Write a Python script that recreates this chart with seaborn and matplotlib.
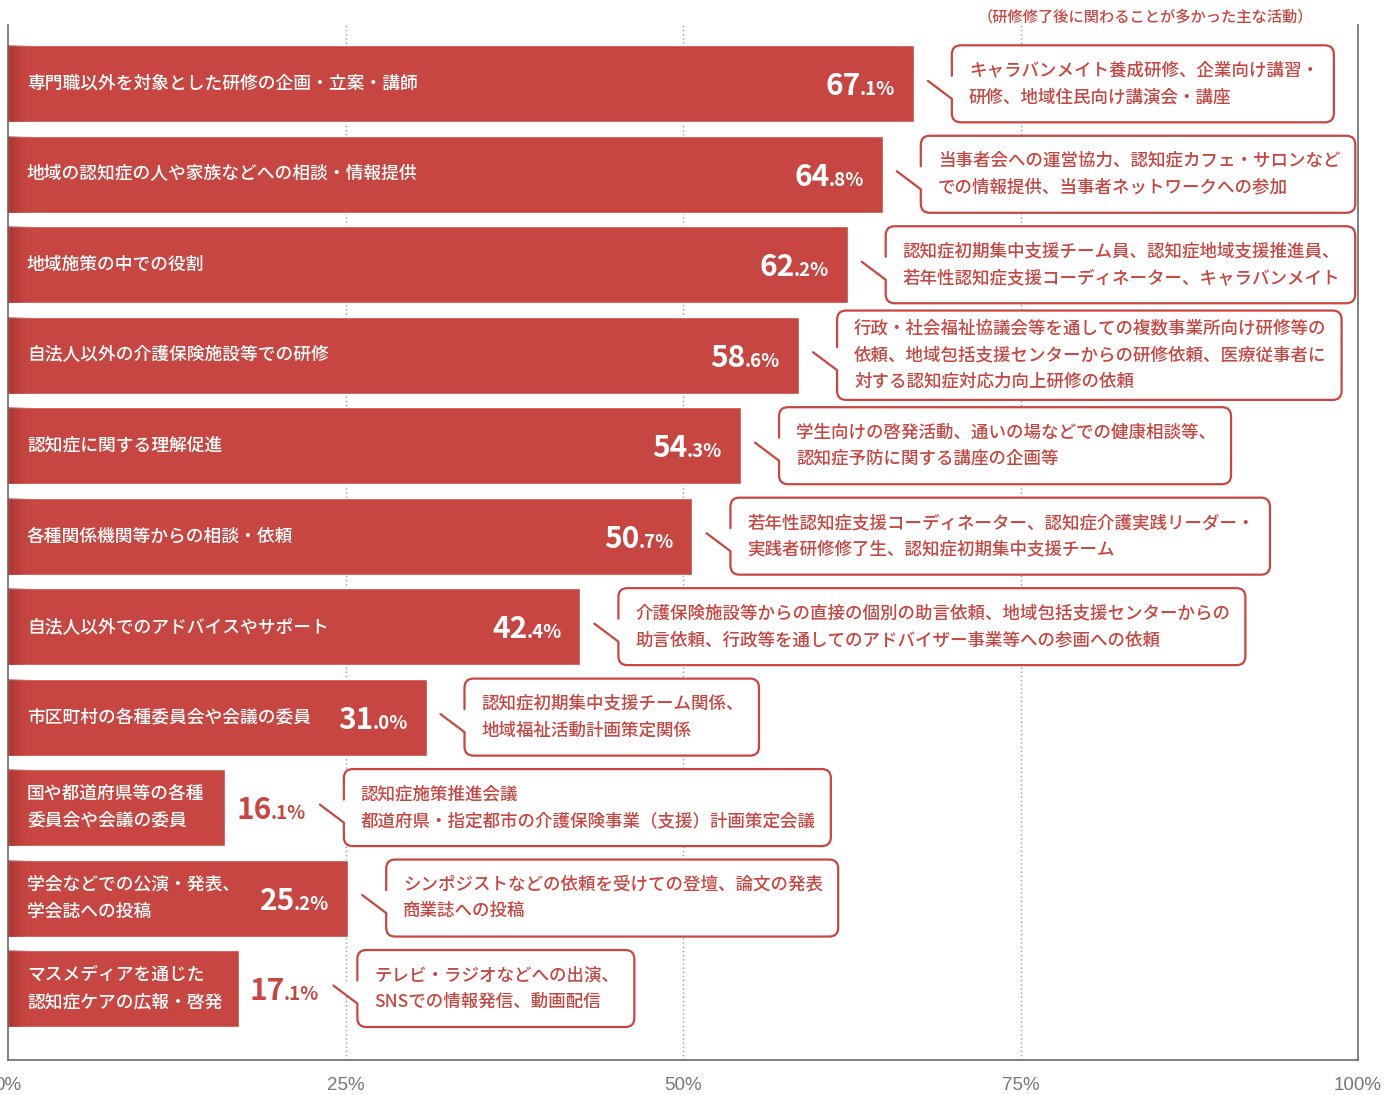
import matplotlib
matplotlib.use("Agg")
import matplotlib.pyplot as plt
import seaborn as sns
import pandas as pd
import numpy as np
from matplotlib.path import Path
from matplotlib.patches import PathPatch
from matplotlib.transforms import IdentityTransform
from matplotlib.colors import LinearSegmentedColormap

# ---------------- data ----------------
categories = [
    "専門職以外を対象とした研修の企画・立案・講師",
    "地域の認知症の人や家族などへの相談・情報提供",
    "地域施策の中での役割",
    "自法人以外の介護保険施設等での研修",
    "認知症に関する理解促進",
    "各種関係機関等からの相談・依頼",
    "自法人以外でのアドバイスやサポート",
    "市区町村の各種委員会や会議の委員",
    "国や都道府県等の各種\n委員会や会議の委員",
    "学会などでの公演・発表、\n学会誌への投稿",
    "マスメディアを通じた\n認知症ケアの広報・啓発",
]
values = [67.1, 64.8, 62.2, 58.6, 54.3, 50.7, 42.4, 31.0, 16.1, 25.2, 17.1]
activities = [
    "キャラバンメイト養成研修、企業向け講習・\n研修、地域住民向け講演会・講座",
    "当事者会への運営協力、認知症カフェ・サロンなど\nでの情報提供、当事者ネットワークへの参加",
    "認知症初期集中支援チーム員、認知症地域支援推進員、\n若年性認知症支援コーディネーター、キャラバンメイト",
    "行政・社会福祉協議会等を通しての複数事業所向け研修等の\n依頼、地域包括支援センターからの研修依頼、医療従事者に\n対する認知症対応力向上研修の依頼",
    "学生向けの啓発活動、通いの場などでの健康相談等、\n認知症予防に関する講座の企画等",
    "若年性認知症支援コーディネーター、認知症介護実践リーダー・\n実践者研修修了生、認知症初期集中支援チーム",
    "介護保険施設等からの直接の個別の助言依頼、地域包括支援センターからの\n助言依頼、行政等を通してのアドバイザー事業等への参画への依頼",
    "認知症初期集中支援チーム関係、\n地域福祉活動計画策定関係",
    "認知症施策推進会議\n都道府県・指定都市の介護保険事業（支援）計画策定会議",
    "シンポジストなどの依頼を受けての登壇、論文の発表\n商業誌への投稿",
    "テレビ・ラジオなどへの出演、\nSNSでの情報発信、動画配信",
]
label_inside = [True, True, True, True, True, True, True, True, False, True, False]
x_ticks = [0, 25, 50, 75, 100]
x_tick_labels = ["0%", "25%", "50%", "75%", "100%"]
header = "（研修修了後に関わることが多かった主な活動）"

# ---------------- style ----------------
sns.set_theme(style="white")
plt.rcParams["font.family"] = ["Noto Sans CJK JP", "DejaVu Sans"]

RED = "#c84641"
GRAY = "#6b6b6b"
W, H = 1399, 1095
fig = plt.figure(figsize=(W / 100, H / 100), dpi=100)
fig.patch.set_facecolor("white")
ax = fig.add_axes([8 / W, 35 / H, 1350 / W, 1035 / H])

df = pd.DataFrame({"cat": categories, "val": values})
sns.barplot(data=df, x="val", y="cat", orient="h", color=RED, saturation=1,
            width=0.85, ax=ax, zorder=2)

ax.set_xlim(0, 100)
ax.set_ylim(10.79, -0.65)
ax.set_xlabel("")
ax.set_ylabel("")
ax.set_yticks([])
ax.set_xticks(x_ticks)
ax.set_xticklabels(x_tick_labels, fontfamily=["Liberation Sans", "DejaVu Sans"])
ax.tick_params(axis="x", length=0, pad=12, labelsize=13.5, labelcolor="#777777")
for s in ["left", "bottom", "right"]:
    ax.spines[s].set_visible(True)
    ax.spines[s].set_color(GRAY)
    ax.spines[s].set_linewidth(1.2)
ax.spines["top"].set_visible(False)
for xv in x_ticks[1:-1]:
    ax.axvline(xv, color="#9a9a9a", lw=1.0, ls=(0, (1, 2)), zorder=0)

# left-edge shading of bars
shade = LinearSegmentedColormap.from_list("sh", [(0.55, 0.15, 0.14, 0.55), (0.78, 0.27, 0.25, 0.0)])
grad = np.linspace(0, 1, 64).reshape(1, -1)
for p in ax.patches:
    y0 = p.get_y()
    h = p.get_height()
    ax.imshow(grad, cmap=shade, extent=(0, 1.8, y0 + h, y0), aspect="auto",
              zorder=3, interpolation="bilinear")
ax.set_xlim(0, 100)
ax.set_ylim(10.79, -0.65)

renderer = fig.canvas.get_renderer()
ID = IdentityTransform()


def disp(x, y):
    return ax.transData.transform((x, y))


for i, (cat, v, act, inside) in enumerate(zip(categories, values, activities, label_inside)):
    x0, cy = disp(0, i)
    xe, _ = disp(v, i)
    # category label
    fig.text(x0 + 19, cy, cat, transform=ID, color="white", fontsize=12.8,
             fontweight="medium", va="center", ha="left", linespacing=1.62, zorder=5)
    # value label: big integer part + small decimal part
    ip, dp = f"{v:.1f}".split(".")
    small = "." + dp + "%"
    base = cy - 11.5
    col = "white" if inside else RED
    if inside:
        ts = fig.text(xe - 19, base, small, transform=ID, color=col, fontsize=13.5,
                      fontweight="bold", ha="right", va="baseline", zorder=5)
        sx0 = ts.get_window_extent(renderer).x0
        fig.text(sx0 + 1, base, ip, transform=ID, color=col, fontsize=21.5,
                 fontweight="bold", ha="right", va="baseline", zorder=5)
        ref = xe
    else:
        tb = fig.text(xe + 11, base, ip, transform=ID, color=col, fontsize=21.5,
                      fontweight="bold", ha="left", va="baseline", zorder=5)
        bx1 = tb.get_window_extent(renderer).x1
        ts = fig.text(bx1 - 1, base, small, transform=ID, color=col, fontsize=13.5,
                      fontweight="bold", ha="left", va="baseline", zorder=5)
        ref = ts.get_window_extent(renderer).x1
    # callout
    tip_x = ref + 14
    L = tip_x + 24
    ta = fig.text(L + 17, cy, act, transform=ID, color=RED, fontsize=12.6,
                  fontweight="medium", va="center", ha="left", linespacing=1.62, zorder=6)
    bb = ta.get_window_extent(renderer)
    R = bb.x1 + 15
    hh = max(77, bb.height + 18)
    top, bot = cy + hh / 2, cy - hh / 2
    r = 9
    verts = [(tip_x, cy + 3), (L, cy - 15), (L, bot + r), (L, bot), (L + r, bot),
             (R - r, bot), (R, bot), (R, bot + r), (R, top - r), (R, top), (R - r, top),
             (L + r, top), (L, top), (L, top - r), (L, cy + 8)]
    codes = [Path.MOVETO, Path.LINETO, Path.LINETO, Path.CURVE3, Path.CURVE3,
             Path.LINETO, Path.CURVE3, Path.CURVE3, Path.LINETO, Path.CURVE3, Path.CURVE3,
             Path.LINETO, Path.CURVE3, Path.CURVE3, Path.LINETO]
    patch = PathPatch(Path(verts, codes), transform=ID, facecolor="white", edgecolor=RED,
                      lw=1.6, capstyle="round", joinstyle="round", zorder=4)
    fig.add_artist(patch)

fig.text(1145, H - 17, header, transform=ID, color=RED, fontsize=11,
         fontweight="medium", ha="center", va="center")

fig.savefig("out.png", dpi=100, facecolor="white")
